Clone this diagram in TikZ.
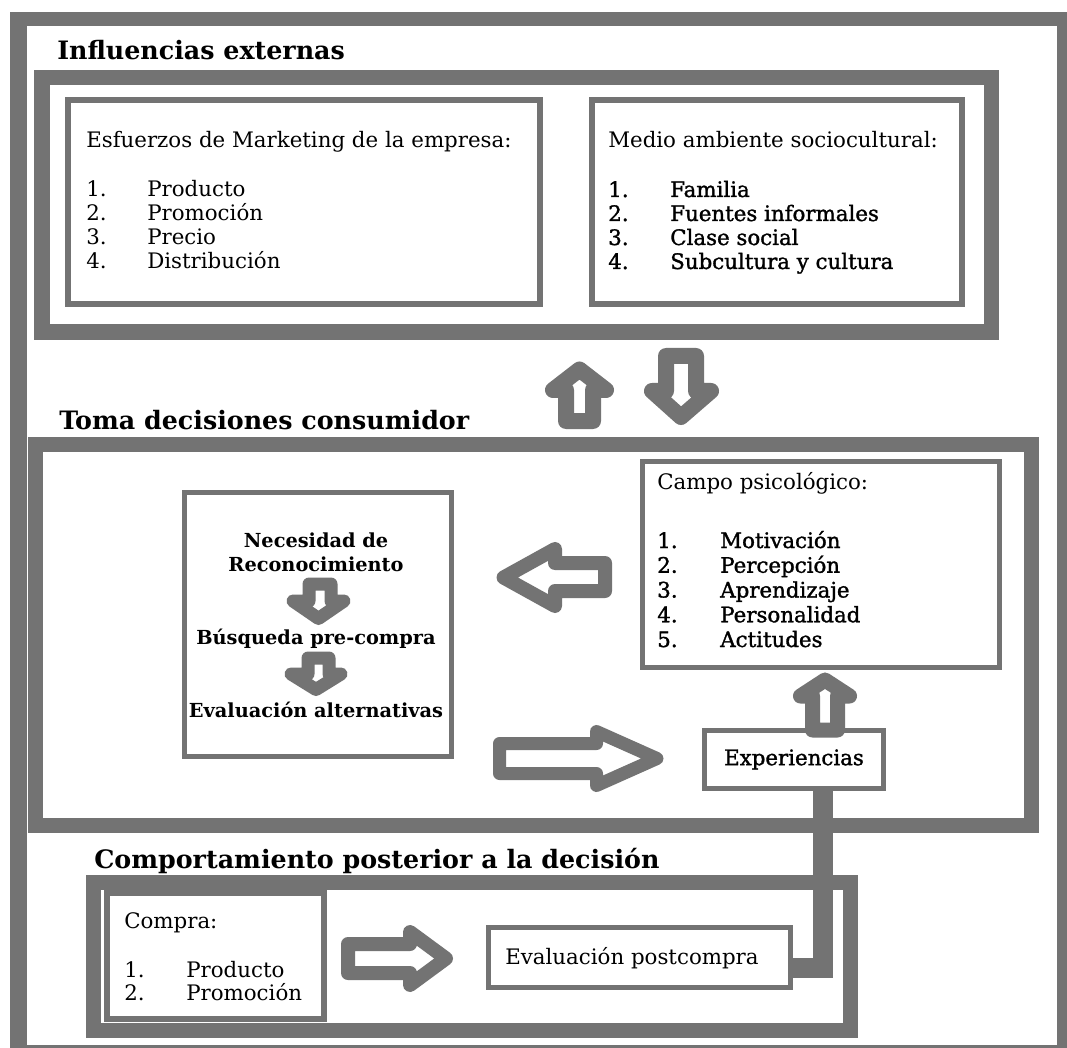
\documentclass[tikz,border=0pt]{standalone}
\usepackage{fontspec}
\setmainfont{DejaVu Serif}
\newfontfamily\semib[FakeBold=1.4]{DejaVu Serif}
\definecolor{fg}{RGB}{115,115,115}
\newcommand\pbox[6]{%
  \node[draw=fg, line width={#6*0.75pt}, inner sep=0pt, outer sep=0pt,
        minimum width={(#4-#2-#6)*0.75pt}, minimum height={(#5-#3-#6)*0.75pt}]
        (#1) at ({(#2+#4)/2},{(#3+#5)/2}) {};}
\tikzset{
  tx/.style={anchor=base west, inner sep=0pt, font=\fontsize{16}{19}\selectfont},
  sx/.style={anchor=base west, inner sep=0pt, font=\fontsize{16}{19}\semib},
  ttl/.style={anchor=base west, inner sep=0pt, font=\fontsize{19}{22}\selectfont\bfseries},
  nx/.style={anchor=base, inner sep=0pt, font=\fontsize{14.5}{17}\selectfont\bfseries},
  barrow/.style={draw=fg, fill=white, line join=round, line width=#1*0.75pt},
  conn/.style={draw=fg, line width=15pt, line join=miter},
}
\begin{document}
\begin{tikzpicture}[x=0.75pt, y=-0.75pt]
\useasboundingbox (0,0) rectangle (1067,1048);
\fill[white] (0,0) rectangle (1067,1048);
% outer frame
\fill[fg] (10,12) rectangle (1067,1048);
\fill[white] (27,26) rectangle (1057,1045);

% ---------- Influencias externas
\node[ttl] (t1) at (57,60) {Influencias externas};
\pbox{boxA}{34}{70}{999}{340}{15.5}
\pbox{esf}{65}{97}{543}{307}{6}
\pbox{med}{589}{97}{965}{307}{6}
\node[tx] (esfh) at (86,148) {Esfuerzos de Marketing de la empresa:};
\foreach \t [count=\i] in {Producto,Promoción,Precio,Distribución}{
  \node[tx] (en\i) at (86,{173+24*\i}) {\i.};
  \node[tx] (et\i) at (147,{173+24*\i}) {\t};
}
\node[tx] (medh) at (608,148) {Medio ambiente sociocultural:};
\foreach \t [count=\i] in {Familia,Fuentes informales,Clase social,Subcultura y cultura}{
  \node[sx] (mn\i) at (608,{173+24*\i}) {\i.};
  \node[sx] (mt\i) at (670,{173+24*\i}) {\t};
}

% arrows between A and B
\draw[barrow=16] (566,421) -- (566,390) -- (553,390) -- (579.5,369.5) -- (606,390) -- (593,390) -- (593,421) -- cycle;
\draw[barrow=16] (666,356) -- (696,356) -- (696,391) -- (711,391) -- (681,417) -- (652,391) -- (666,391) -- cycle;

% ---------- Toma decisiones consumidor
\node[ttl] (t2) at (59,429) {Toma decisiones consumidor};
\pbox{boxB}{28}{437}{1039}{833}{15}
\pbox{nec}{182}{490}{454}{759}{5}
\node[nx] (n1) at (316,547) {Necesidad de};
\node[nx] (n2) at (316,571) {Reconocimiento};
\node[nx] (n3) at (316,644) {Búsqueda pre-compra};
\node[nx] (n4) at (316,717) {Evaluación alternativas};
\draw[barrow=13] (309,584) -- (331,584) -- (331,601) -- (344,601) -- (318.5,618.5) -- (293,601) -- (309,601) -- cycle;
\draw[barrow=13] (308,658) -- (329,658) -- (329,674) -- (341,674) -- (316,689.5) -- (291,674) -- (308,674) -- cycle;

\pbox{campo}{640}{459}{1002}{670}{5}
\node[tx] (campoh) at (657,489) {Campo psicológico:};
\foreach \t [count=\i] in {Motivación,Percepción,Aprendizaje,Personalidad,Actitudes}{
  \node[sx] (cn\i) at (657,{523.25+24.75*\i}) {\i.};
  \node[sx] (ct\i) at (720,{523.25+24.75*\i}) {\t};
}
% left arrow (campo -> nec)
\draw[barrow=14] (605,563) -- (555,563) -- (555,549) -- (503.5,577.5) -- (555,606) -- (555,591) -- (605,591) -- cycle;
% right arrow (nec -> experiencias)
\draw[barrow=13] (499.5,743.5) -- (596.5,743.5) -- (596.5,731.5) -- (657,758.5) -- (596.5,785.5) -- (596.5,773.5) -- (499.5,773.5) -- cycle;

\node[draw=fg, line width=3.75pt, inner sep=0pt, outer sep=0pt,
      minimum width={(184-5)*0.75pt}, minimum height={(63-5)*0.75pt},
      font=\fontsize{16}{19}\semib] (exp) at (794,759.5) {Experiencias};
% up arrow experiencias -> campo
\draw[barrow=15] (812.5,730) -- (812.5,696) -- (800.5,696) -- (825,680) -- (849.5,696) -- (837.5,696) -- (837.5,730) -- cycle;

% ---------- Comportamiento posterior
\node[ttl] (t3) at (94,868) {Comportamiento posterior a la decisión};
\pbox{boxC}{86}{875}{858}{1038}{15}
\pbox{compra}{104}{890}{327}{1022}{6}
\node[tx] (comprah) at (124,928) {Compra:};
\foreach \t [count=\i] in {Producto,Promoción}{
  \node[tx] (pn\i) at (124,{954+23*\i}) {\i.};
  \node[tx] (pt\i) at (186,{954+23*\i}) {\t};
}
\draw[barrow=14] (348,944) -- (410,944) -- (410,932) -- (446,958.5) -- (410,985) -- (410,973) -- (348,973) -- cycle;
\pbox{post}{486}{925}{793}{990}{5}
\node[tx, anchor=base] (postt) at (632,964) {Evaluación postcompra};

% connector experiencias -> evaluación postcompra
\draw[conn] ([xshift=21.75pt]exp.south) |- ([yshift=-7.5pt]post.east);
\end{tikzpicture}
\end{document}
